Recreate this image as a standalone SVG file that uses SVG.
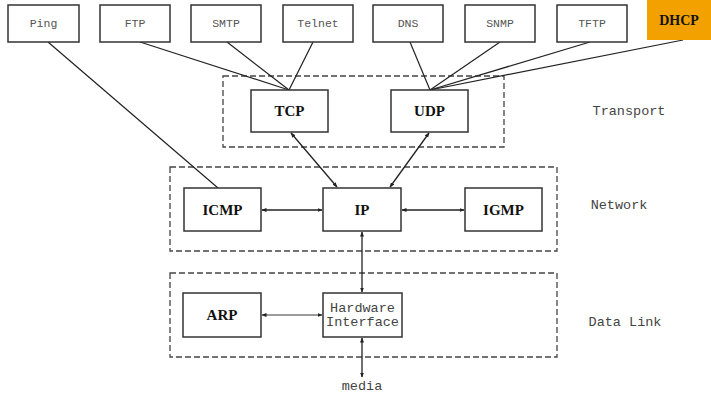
<svg xmlns="http://www.w3.org/2000/svg" width="711" height="395" viewBox="0 0 711 395">
<defs>
<style>
.box{fill:#fff;stroke:#333;stroke-width:1.5}
.grp{fill:none;stroke:#444;stroke-width:1.3;stroke-dasharray:6 3}
.mono{font-family:"Liberation Mono","DejaVu Sans Mono",monospace;fill:#555;text-anchor:middle}
.small{font-size:11.5px}
.lbl{font-size:13.5px;fill:#444}
.bold{font-family:"Liberation Serif","Times New Roman",serif;font-weight:bold;font-size:15px;fill:#111;text-anchor:middle}
.ln{stroke:#222;stroke-width:1.2;fill:none}
.ar{stroke:#222;stroke-width:1.3;fill:none;marker-start:url(#ah);marker-end:url(#ah)}
</style>
<marker id="ah" viewBox="0 0 10 10" refX="9" refY="5" markerWidth="5" markerHeight="5" orient="auto-start-reverse" markerUnits="userSpaceOnUse">
<path d="M0,1 L10,5 L0,9 z" fill="#222"/>
</marker>
</defs>
<rect width="711" height="395" fill="#fff"/>

<g id="groups">
<rect class="grp" x="223" y="76" width="281" height="71"/>
<rect class="grp" x="170" y="167" width="387" height="84"/>
<rect class="grp" x="170" y="273" width="387" height="84"/>
</g>

<g id="connectors">
<line class="ln" x1="48" y1="42" x2="218" y2="188"/>
<line class="ln" x1="140" y1="42" x2="289" y2="90"/>
<line class="ln" x1="227" y1="42" x2="289" y2="90"/>
<line class="ln" x1="313" y1="42" x2="289" y2="90"/>
<line class="ln" x1="410" y1="42" x2="430" y2="90"/>
<line class="ln" x1="500" y1="42" x2="430" y2="90"/>
<line class="ln" x1="590" y1="42" x2="430" y2="90"/>
<line class="ln" x1="683" y1="40" x2="430" y2="90"/>
<line class="ar" x1="291" y1="133" x2="337" y2="187"/>
<line class="ar" x1="429" y1="133" x2="390" y2="187"/>
<line class="ar" x1="262" y1="210" x2="322" y2="210"/>
<line class="ar" x1="402" y1="210" x2="464" y2="210"/>
<line class="ar" x1="362" y1="232" x2="362" y2="292"/>
<line class="ar" x1="262" y1="315" x2="322" y2="315" style="stroke-width:0.9"/>
<line class="ar" x1="362" y1="338" x2="362" y2="377"/>
</g>

<g id="ping"><rect class="box" x="8" y="5" width="71" height="37"/><text class="mono small" x="43.5" y="27">Ping</text></g>
<g id="ftp"><rect class="box" x="100" y="5" width="70" height="37"/><text class="mono small" x="135" y="27">FTP</text></g>
<g id="smtp"><rect class="box" x="191" y="5" width="70" height="37"/><text class="mono small" x="226" y="27">SMTP</text></g>
<g id="telnet"><rect class="box" x="283" y="5" width="70" height="37"/><text class="mono small" x="318" y="27">Telnet</text></g>
<g id="dns"><rect class="box" x="373" y="5" width="70" height="37"/><text class="mono small" x="408" y="27">DNS</text></g>
<g id="snmp"><rect class="box" x="465" y="5" width="70" height="37"/><text class="mono small" x="500" y="27">SNMP</text></g>
<g id="tftp"><rect class="box" x="557" y="5" width="70" height="37"/><text class="mono small" x="592" y="27">TFTP</text></g>
<g id="dhcp"><rect x="647" y="0" width="64" height="40" fill="#F2A100"/><text class="bold" x="679" y="25" style="font-size:14px">DHCP</text></g>

<g id="tcp"><rect class="box" x="251" y="90" width="77" height="42"/><text class="bold" x="289.5" y="116">TCP</text></g>
<g id="udp"><rect class="box" x="391" y="90" width="77" height="42"/><text class="bold" x="429.5" y="116">UDP</text></g>

<g id="icmp"><rect class="box" x="184" y="188" width="77" height="43"/><text class="bold" x="222.5" y="215">ICMP</text></g>
<g id="ip"><rect class="box" x="323" y="188" width="78" height="43"/><text class="bold" x="362" y="215">IP</text></g>
<g id="igmp"><rect class="box" x="465" y="188" width="77" height="43"/><text class="bold" x="503.5" y="215">IGMP</text></g>

<g id="arp"><rect class="box" x="183" y="293" width="78" height="44"/><text class="bold" x="222" y="320">ARP</text></g>
<g id="hw"><rect class="box" x="323" y="293" width="79" height="44"/><text class="mono lbl" x="362.5" y="312">Hardware</text><text class="mono lbl" x="362.5" y="326">Interface</text></g>

<g id="labels">
<text class="mono lbl" x="629" y="115">Transport</text>
<text class="mono lbl" x="619" y="209">Network</text>
<text class="mono lbl" x="625" y="326">Data Link</text>
<text class="mono lbl" x="362" y="390" style="font-size:13.5px">media</text>
</g>
</svg>
